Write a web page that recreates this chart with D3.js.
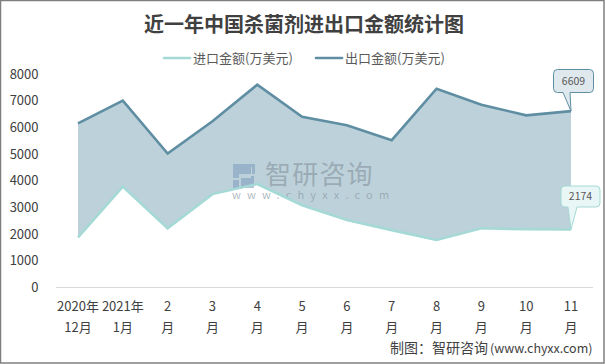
<!DOCTYPE html>
<html>
<head>
<meta charset="utf-8">
<script src="https://cdn.jsdelivr.net/npm/d3@7"></script>
<style>
html, body { margin: 0; padding: 0; background: #fff; }
text { font-family: "Noto Sans CJK SC", "Noto Sans", sans-serif; }
</style>
</head>
<body>
<svg id="chart" width="605" height="364"></svg>
<script>
const months = ['2020年12月', '2021年1月', '2月', '3月', '4月', '5月', '6月', '7月', '8月', '9月', '10月', '11月'];
const tickTop = ['2020年', '2021年', '2', '3', '4', '5', '6', '7', '8', '9', '10', '11'];
const tickBottom = ['12月', '1月', '月', '月', '月', '月', '月', '月', '月', '月', '月', '月'];
const importValues = [1880, 3780, 2220, 3500, 3880, 3080, 2530, 2150, 1780, 2220, 2180, 2174];
const exportValues = [6150, 7000, 5020, 6230, 7600, 6400, 6080, 5520, 7450, 6850, 6450, 6609];
const yTicks = [0, 1000, 2000, 3000, 4000, 5000, 6000, 7000, 8000];

const importColor = '#a5d9d5';
const exportColor = '#5f8ea3';
const bandColor = '#bdd1da';

const svg = d3.select('#chart');

// outer frame
svg.append('rect')
    .attr('x', 0.5).attr('y', 0.5)
    .attr('width', 603.5).attr('height', 362.5)
    .attr('fill', '#fff')
    .attr('stroke', '#7f7f7f')
    .attr('stroke-width', 1.5);

const x = d3.scalePoint().domain(months).range([78, 571]);
const y = d3.scaleLinear().domain([0, 8000]).range([287.5, 74]);

// band between the two series
const band = d3.area()
    .x((d, i) => x(months[i]))
    .y0((d, i) => y(importValues[i]))
    .y1(d => y(d));

svg.append('path')
    .datum(exportValues)
    .attr('d', band)
    .attr('fill', bandColor);

// watermark
const mark = svg.append('g');
mark.append('text')
    .attr('x', 265).attr('y', 184)
    .attr('font-size', 26)
    .attr('letter-spacing', 1.2)
    .attr('fill', '#8c9aa5')
    .attr('fill-opacity', 0.7)
    .text('智研咨询');
mark.append('text')
    .attr('x', 232).attr('y', 199)
    .attr('font-size', 11)
    .attr('letter-spacing', 6.2)
    .attr('fill', '#8c9aa5')
    .attr('fill-opacity', 0.7)
    .text('www.chyxx.com');
mark.append('path')
    .attr('d', 'M233 164h18v10h-12v4h-6zM233 180h6v8h-6zM241 178h10v-2h3v12h-13zM245 164h10v10h-3v-7h-7z')
    .attr('fill', '#7f9fc0')
    .attr('fill-opacity', 0.6);

// lines
const line = d3.line().x((d, i) => x(months[i])).y(d => y(d));

svg.append('path').datum(importValues)
    .attr('d', line).attr('fill', 'none')
    .attr('stroke', importColor).attr('stroke-width', 2.6);
svg.append('path').datum(exportValues)
    .attr('d', line).attr('fill', 'none')
    .attr('stroke', exportColor).attr('stroke-width', 2.6);

// baseline
svg.append('line')
    .attr('x1', 56).attr('x2', 593)
    .attr('y1', 287.5).attr('y2', 287.5)
    .attr('stroke', '#d9d9d9');

// y axis
const yAxis = d3.axisLeft(y).tickValues(yTicks).tickSize(0).tickPadding(0).tickFormat(d3.format('d'));
const yG = svg.append('g').attr('transform', 'translate(38.5,0)').call(yAxis);
yG.select('.domain').remove();
yG.selectAll('text')
    .attr('font-size', 13)
    .attr('fill', '#404040');

// x axis, two rows per tick
const xLabels = svg.append('g').selectAll('g').data(months).enter().append('g')
    .attr('transform', d => `translate(${x(d)},0)`);
xLabels.append('text')
    .attr('y', 311)
    .attr('text-anchor', 'middle')
    .attr('font-size', 13)
    .attr('fill', '#404040')
    .text((d, i) => tickTop[i]);
xLabels.append('text')
    .attr('y', 331.5)
    .attr('text-anchor', 'middle')
    .attr('font-size', 13)
    .attr('fill', '#404040')
    .text((d, i) => tickBottom[i]);

// title
svg.append('text')
    .attr('x', 304).attr('y', 32)
    .attr('text-anchor', 'middle')
    .attr('font-size', 20)
    .attr('font-weight', 700)
    .attr('fill', '#404040')
    .text('近一年中国杀菌剂进出口金额统计图');

// legend
const legendItems = [
    { name: '进口金额(万美元)', color: importColor, x: 164 },
    { name: '出口金额(万美元)', color: exportColor, x: 316 }
];
const legend = svg.append('g').selectAll('g').data(legendItems).enter().append('g')
    .attr('transform', d => `translate(${d.x},58)`);
legend.append('line')
    .attr('x2', 26)
    .attr('stroke', d => d.color)
    .attr('stroke-width', 2.6)
    .attr('stroke-linecap', 'round');
legend.append('text')
    .attr('x', 29).attr('y', 4.5)
    .attr('font-size', 13)
    .attr('fill', '#595959')
    .text(d => d.name);

// callouts on the last point
function callout(value, color, fill, left, top, w, h, baseL, baseR, textY) {
    const px = x(months[months.length - 1]);
    const py = y(value);
    const r = 4;
    const d = `M${left + r},${top}h${w - 2 * r}q${r},0 ${r},${r}v${h - 2 * r}q0,${r} ${-r},${r}`
        + `H${baseR}L${px},${py}L${baseL},${top + h}`
        + `H${left + r}q${-r},0 ${-r},${-r}v${-(h - 2 * r)}q0,${-r} ${r},${-r}z`;
    svg.append('path').attr('d', d)
        .attr('fill', fill)
        .attr('stroke', color)
        .attr('stroke-width', 1);
    svg.append('text')
        .attr('x', left + w / 2).attr('y', textY)
        .attr('text-anchor', 'middle')
        .attr('font-size', 10.5)
        .attr('fill', '#595959')
        .text(value);
}
callout(exportValues[11], exportColor, '#dfe8ed', 553.5, 69.5, 40, 23, 563, 570, 85);
callout(importValues[11], importColor, '#e9f6f6', 561, 186, 39, 21, 568, 577, 200);

// source note
const note = svg.append('text')
    .attr('x', 390).attr('y', 353)
    .attr('fill', '#404040');
note.append('tspan').attr('font-size', 14).text('制图：智研咨询');
note.append('tspan').attr('font-size', 12.5).attr('dx', 2).text('(www.chyxx.com)');
</script>
</body>
</html>
